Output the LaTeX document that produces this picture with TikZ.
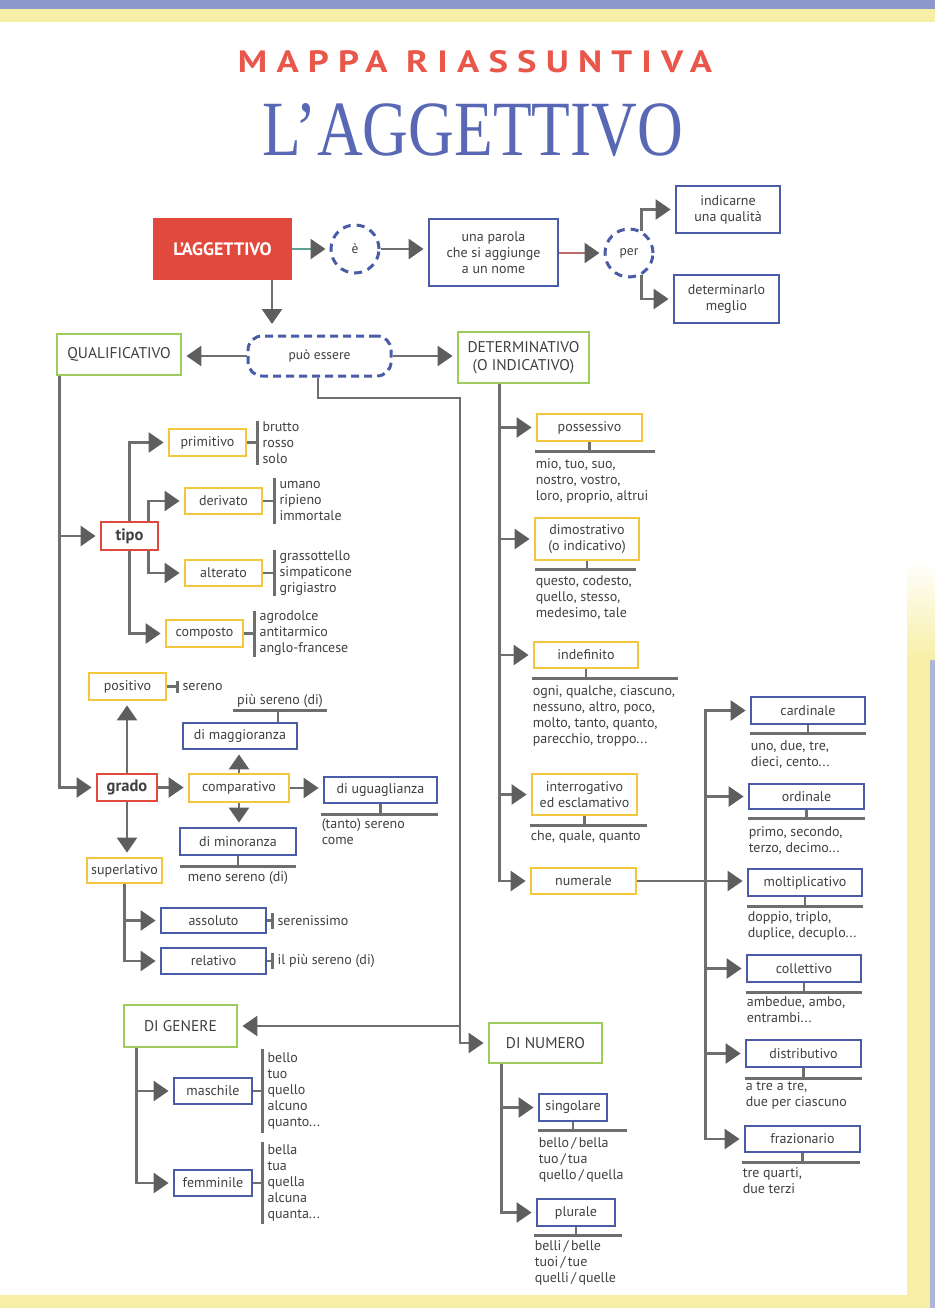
\documentclass[tikz,border=0pt]{standalone}
\usepackage{graphicx}
\usepackage{fontspec}
\setmainfont{PT Sans}
\newfontfamily\serifT{Liberation Serif}
\usetikzlibrary{arrows.meta,calc}

\definecolor{cYel}{HTML}{F4C63D}
\definecolor{cBlu}{HTML}{4A5CA8}
\definecolor{cGrn}{HTML}{9DCB5C}
\definecolor{cRed}{HTML}{E2493D}
\definecolor{cLine}{HTML}{6E6E6E}
\definecolor{cHead}{HTML}{5E5E5E}
\definecolor{cText}{HTML}{404040}
\definecolor{cTeal}{HTML}{5E9F96}
\definecolor{cRedLine}{HTML}{B86A6A}
\definecolor{cTitleRed}{HTML}{E9574B}
\definecolor{cTitleBlue}{HTML}{5868B4}
\definecolor{cPageY}{HTML}{F7EFA6}
\definecolor{cPageB}{HTML}{8C98CC}
\definecolor{cEdgeB}{HTML}{AEB6DA}

\tikzset{
 box/.style={draw, line width=2.8pt, fill=white, inner sep=0pt, align=center, text=cText, font=\fontsize{14}{16}\selectfont},
 ybox/.style={box, draw=cYel},
 bbox/.style={box, draw=cBlu},
 gbox/.style={box, draw=cGrn, font=\fontsize{15.5}{18}\selectfont},
 rbox/.style={box, draw=cRed, font=\fontsize{16.5}{18}\selectfont\bfseries},
 dcirc/.style={circle, draw=cBlu, dash pattern=on 8pt off 6pt, line width=3pt, minimum size=48pt, inner sep=0pt, text=cText, font=\fontsize{13.5}{15}\selectfont},
 conn/.style={draw=cLine, line width=2.6pt},
 arr/.style={conn, -{Triangle[length=15pt,width=20pt,color=cHead]}, shorten >=4pt},
 wlist/.style={inner sep=0pt, align=left, text=cText, font=\fontsize{14}{16}\selectfont},
}

% list to the right of a box: name, gap, half height of bar, text
\newcommand\rlist[4]{%
  \draw[conn] (#1.east) -- ++(#2,0) coordinate (#1-t);
  \draw[conn] ($(#1-t)+(0,-#3)$) -- ($(#1-t)+(0,#3)$);
  \node[wlist, anchor=west] (#1-w) at ($(#1-t)+(5,0)$) {#4};}
% list below a box: name, drop, left ext, right ext, text offset, text
\newcommand\blist[6]{%
  \draw[conn] (#1.south) -- ++(0,#2) coordinate (#1-t);
  \draw[conn] ([xshift=#3pt]#1.south west |- #1-t) -- ([xshift=#4pt]#1.south east |- #1-t);
  \node[wlist, anchor=north west] (#1-w) at ($([xshift=#3pt]#1.south west |- #1-t)+(1,#5)$) {#6};}

\begin{document}
\begin{tikzpicture}[x=1pt,y=-1pt]
\useasboundingbox (0,0) rectangle (935,1308);
% page
\fill[cPageY] (0,0) rectangle (935,1308);
\fill[white] (0,22) rectangle (935,1295);
\shade[top color=white, bottom color=cPageY] (907,560) rectangle (935,660);
\fill[cPageY] (907,660) rectangle (935,1308);
\fill[cEdgeB] (930,660) rectangle (935,1308);
\fill[cPageB] (0,0) rectangle (935,9);

% titles
\node[inner sep=0pt] (t1) at (475,62) {\resizebox{474pt}{22pt}{\color{cTitleRed}\bfseries\addfontfeature{LetterSpace=25}MAPPA RIASSUNTIVA}};
\node[inner sep=0pt] (t2) at (473,130) {\resizebox{420pt}{52pt}{\color{cTitleBlue}\serifT L’AGGETTIVO}};

% top row
\node[fill=cRed, minimum width=139pt, minimum height=62pt, inner sep=0pt, text=white, font=\fontsize{18}{20}\selectfont\bfseries] (agg) at (222.5,249) {L’AGGETTIVO};
\node[dcirc] (e) at (355,249) {è};
\node[bbox, minimum width=129pt, minimum height=67pt] (parola) at (493.5,252.5) {una parola\\che si aggiunge\\a un nome};
\node[dcirc] (per) at (629,253) {per};
\node[bbox, minimum width=104pt, minimum height=47pt] (qual) at (728,209.5) {indicarne\\una qualità};
\node[bbox, minimum width=105pt, minimum height=48pt] (detm) at (726.5,299) {determinarlo\\meglio};
\draw[arr, draw=cTeal] (agg.east) -- (e.west);
\draw[arr] (e.east) -- (e.east -| parola.west);
\draw[arr, draw=cRedLine] (parola.east |- per.west) -- (per.west);
\draw[arr] (per.60) |- (qual.west);
\draw[arr] (per.-60) |- (detm.west);

% può essere
\node[draw=cBlu, dash pattern=on 8pt off 5pt, line width=3pt, rounded corners=14pt, minimum width=143pt, minimum height=40pt, inner sep=0pt, text=cText, font=\fontsize{13.5}{15}\selectfont] (puo) at (319.5,356) {può essere};
\coordinate (aggtip) at (272,324);
\draw[arr, shorten >=0pt] (agg.south -| aggtip) -- (aggtip);
\node[gbox, minimum width=124pt, minimum height=41pt] (qualif) at (119,354.5) {QUALIFICATIVO};
\node[gbox, minimum width=131pt, minimum height=51pt] (determ) at (523.5,357.5) {DETERMINATIVO\\(O INDICATIVO)};
\draw[arr] (puo.west) -- (puo.west -| qualif.east);
\draw[arr] (puo.east) -- (puo.east -| determ.west);

% genere / numero
\node[gbox, minimum width=113pt, minimum height=42pt] (digen) at (180.5,1026) {DI GENERE};
\node[gbox, minimum width=113pt, minimum height=40pt] (dinum) at (545.5,1043) {DI NUMERO};
\coordinate (sp) at (460,398);
\draw[arr] ([xshift=-1.5pt]puo.south) |- (sp) |- (dinum.west);
\draw[arr] (sp |- digen.east) -- (digen.east);

% tipo
\node[rbox, minimum width=57pt, minimum height=28pt] (tipo) at (129.5,536) {tipo};
\node[ybox, minimum width=77pt, minimum height=27pt] (prim) at (207.5,442.5) {primitivo};
\node[ybox, minimum width=77pt, minimum height=26pt] (deriv) at (223.5,501) {derivato};
\node[ybox, minimum width=77pt, minimum height=26pt] (alter) at (223.5,573) {alterato};
\node[ybox, minimum width=77pt, minimum height=27pt] (compo) at (204.5,633.5) {composto};
\draw[arr] ([xshift=4pt]qualif.south west |- tipo.west) -- (tipo.west);
\draw[arr] (tipo.north) |- (prim.west);
\draw[arr] (tipo.south) |- (compo.west);
\draw[arr] ([xshift=19pt]tipo.north) |- (deriv.west);
\draw[arr] ([xshift=19pt]tipo.south) |- (alter.west);
\rlist{prim}{10}{22}{brutto\\rosso\\solo}
\rlist{deriv}{11}{23}{umano\\ripieno\\immortale}
\rlist{alter}{11}{23}{grassottello\\simpaticone\\grigiastro}
\rlist{compo}{10}{23}{agrodolce\\antitarmico\\anglo-francese}

% grado
\node[ybox, minimum width=77pt, minimum height=27pt] (posit) at (127.5,686.5) {positivo};
\node[rbox, minimum width=60pt, minimum height=27pt] (grado) at (127,787.5) {grado};
\node[ybox, minimum width=100pt, minimum height=28pt] (compar) at (239,788) {comparativo};
\node[ybox, minimum width=75pt, minimum height=25pt] (superl) at (124.5,870.5) {superlativo};
\node[bbox, minimum width=114pt, minimum height=26pt] (magg) at (240,736) {di maggioranza};
\node[bbox, minimum width=116pt, minimum height=27pt] (minor) at (238,841.5) {di minoranza};
\node[bbox, minimum width=113pt, minimum height=26pt] (ugual) at (380.5,790) {di uguaglianza};
\node[bbox, minimum width=105pt, minimum height=25pt] (assol) at (213.5,920.5) {assoluto};
\node[bbox, minimum width=105pt, minimum height=26pt] (relat) at (213.5,961) {relativo};
\draw[arr] ([xshift=4pt]qualif.south west) |- (grado.west);
\draw[arr] (grado.north) -- (grado.north |- posit.south);
\draw[arr] (grado.east) -- (grado.east -| compar.west);
\draw[arr] (compar.north) -- (compar.north |- magg.south);
\draw[arr] (compar.south) -- (compar.south |- minor.north);
\draw[arr] (compar.east) -- (compar.east -| ugual.west);
\draw[arr] (grado.south) -- (grado.south |- superl.north);
\draw[arr] (superl.south) |- (assol.west);
\draw[arr] (superl.south) |- (relat.west);
\rlist{posit}{10}{6}{sereno}
\rlist{assol}{5}{8}{serenissimo}
\rlist{relat}{5}{8}{il più sereno (di)}
\draw[conn] ([xshift=38pt]magg.north) -- ++(0,-11) coordinate (magg-t);
\draw[conn] ([xshift=51pt]magg.north west |- magg-t) -- ([xshift=29pt]magg.north east |- magg-t);
\node[wlist, anchor=base] (magg-w) at ($(magg-t)+(2,-6)$) {più sereno (di)};
\draw[conn] (minor.south) -- ++(0,10) coordinate (minor-t);
\draw[conn] ([xshift=1pt]minor.south west |- minor-t) -- ([xshift=-1pt]minor.south east |- minor-t);
\node[wlist, anchor=base] (minor-w) at ($(minor-t)+(0,15)$) {meno sereno (di)};
\blist{ugual}{10}{-2}{0}{4}{(tanto) sereno\\come}

% genere / numero branches
\node[bbox, minimum width=78pt, minimum height=26pt] (masch) at (213,1091) {maschile};
\node[bbox, minimum width=78pt, minimum height=26pt] (femm) at (213,1183) {femminile};
\draw[arr] ([xshift=14pt]digen.south west) |- (masch.west);
\draw[arr] ([xshift=14pt]digen.south west) |- (femm.west);
\rlist{masch}{9}{42}{bello\\tuo\\quello\\alcuno\\quanto...}
\rlist{femm}{9}{41}{bella\\tua\\quella\\alcuna\\quanta...}
\node[bbox, minimum width=68pt, minimum height=27pt] (sing) at (573,1107.5) {singolare};
\node[bbox, minimum width=78pt, minimum height=27pt] (plur) at (576,1212.5) {plurale};
\draw[arr] ([xshift=14pt]dinum.south west) |- (sing.west);
\draw[arr] ([xshift=14pt]dinum.south west) |- (plur.west);
\blist{sing}{8}{0}{19}{7}{bello\,/\,bella\\tuo\,/\,tua\\quello\,/\,quella}
\blist{plur}{8}{-2}{6}{5}{belli\,/\,belle\\tuoi\,/\,tue\\quelli\,/\,quelle}

% determinativo
\node[ybox, minimum width=105pt, minimum height=27pt] (poss) at (589.5,427.5) {possessivo};
\node[ybox, minimum width=104pt, minimum height=42pt] (dimos) at (587,539) {dimostrativo\\(o indicativo)};
\node[ybox, minimum width=104pt, minimum height=26pt] (indef) at (586,655) {indefinito};
\node[ybox, minimum width=105pt, minimum height=41pt] (inter) at (584.5,794.5) {interrogativo\\ed esclamativo};
\node[ybox, minimum width=105pt, minimum height=26pt] (numer) at (583.5,881) {numerale};
\coordinate (ds) at ([xshift=43pt]determ.south west);
\draw[arr] (ds) |- (numer.west);
\foreach \n in {poss,dimos,indef,inter} \draw[arr] (ds |- \n.west) -- (\n.west);
\blist{poss}{9}{-1}{12}{7}{mio, tuo, suo,\\nostro, vostro,\\loro, proprio, altrui}
\blist{dimos}{8}{1}{-4}{6}{questo, codesto,\\quello, stesso,\\medesimo, tale}
\blist{indef}{9}{-1}{39}{7}{ogni, qualche, ciascuno,\\nessuno, altro, poco,\\molto, tanto, quanto,\\parecchio, troppo...}
\blist{inter}{9}{-1}{9}{5}{che, quale, quanto}

% numerale
\node[bbox, minimum width=114pt, minimum height=27pt] (card) at (808,710.5) {cardinale};
\node[bbox, minimum width=115pt, minimum height=25pt] (ordin) at (806.5,796.5) {ordinale};
\node[bbox, minimum width=114pt, minimum height=27pt] (molt) at (805,882.5) {moltiplicativo};
\node[bbox, minimum width=114pt, minimum height=27pt] (coll) at (804,968.5) {collettivo};
\node[bbox, minimum width=115pt, minimum height=27pt] (distr) at (803.5,1053.5) {distributivo};
\node[bbox, minimum width=115pt, minimum height=26pt] (fraz) at (802.5,1139) {frazionario};
\draw[arr] (numer.east) -- (numer.east -| molt.west);
\coordinate (rs) at ($(numer.east)+(68,0)$);
\draw[arr] (rs) |- (card.west);
\draw[arr] (rs) |- (fraz.west);
\foreach \n in {ordin,coll,distr} \draw[arr] (rs |- \n.west) -- (\n.west);
\blist{card}{8}{0}{0}{7}{uno, due, tre,\\dieci, cento...}
\blist{ordin}{8}{0}{0}{8}{primo, secondo,\\terzo, decimo...}
\blist{molt}{9}{0}{0}{5}{doppio, triplo,\\duplice, decuplo...}
\blist{coll}{9}{0}{0}{4}{ambedue, ambo,\\entrambi...}
\blist{distr}{10}{0}{0}{3}{a tre a tre,\\due per ciascuno}
\blist{fraz}{9}{-2}{-1}{5}{tre quarti,\\due terzi}
\end{tikzpicture}
\end{document}
